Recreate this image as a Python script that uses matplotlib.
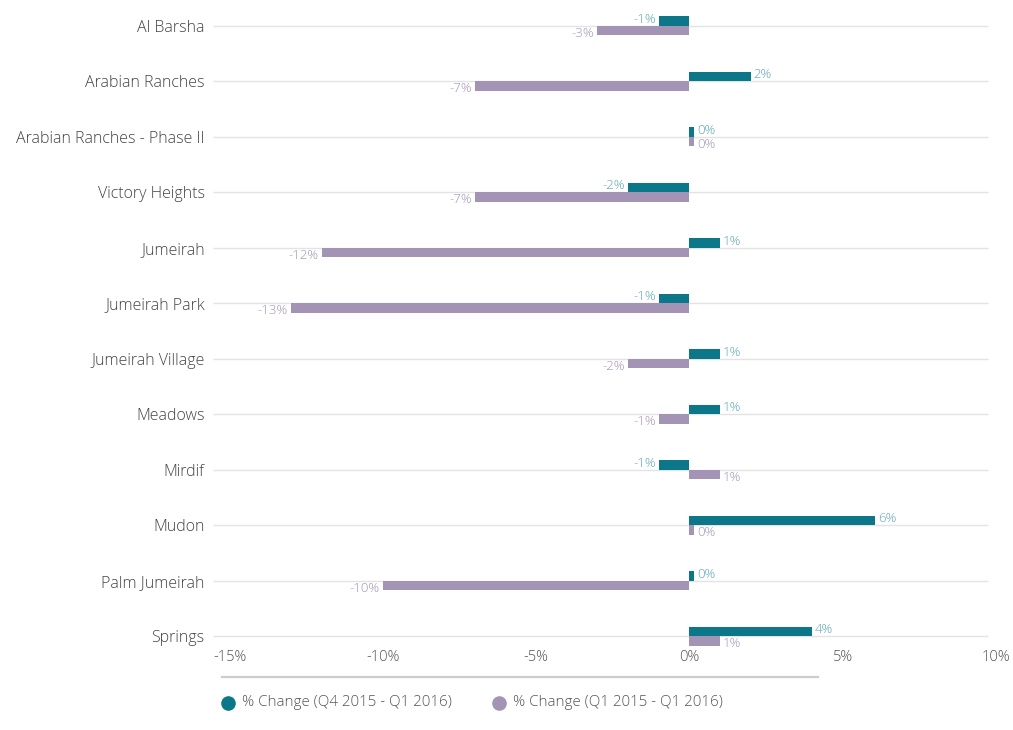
import numpy as np
import matplotlib
matplotlib.use("Agg")
import matplotlib.pyplot as plt
from matplotlib.lines import Line2D

plt.rcParams['font.family'] = ['Open Sans', 'DejaVu Sans']

communities = ['Al Barsha', 'Arabian Ranches', 'Arabian Ranches - Phase II',
               'Victory Heights', 'Jumeirah', 'Jumeirah Park', 'Jumeirah Village',
               'Meadows', 'Mirdif', 'Mudon', 'Palm Jumeirah', 'Springs']
qoq = [-1, 2, 0.14, -2, 1, -1, 1, 1, -1, 6.05, 0.14, 4]
yoy = [-3, -7, 0.14, -7, -12, -13, -2, -1, 1, 0.14, -10, 1]
series_names = ['% Change (Q4 2015 - Q1 2016)', '% Change (Q1 2015 - Q1 2016)']
xticks = [-15, -10, -5, 0, 5, 10]

c_teal = '#0b7789'
c_purple = '#a393b5'
c_teal_lbl = '#5aa6b4'
c_purple_lbl = '#a393b5'

W, H = 1013, 730
fig = plt.figure(figsize=(W / 100, H / 100), dpi=100)
# axes box in pixels: left 213, right 996, top 0, bottom 648
ax = fig.add_axes([213 / W, (H - 648) / H, 783 / W, 648 / H])

y = np.arange(len(communities))
bh = 0.172
px = 1 / 55.5  # one pixel in category units
ax.barh(y - bh / 2, qoq, height=bh, color=c_teal, zorder=3)
ax.barh(y + bh / 2, yoy, height=bh, color=c_purple, zorder=3)

ax.set_xlim(-15.54, 10)
ax.set_ylim(11.213, -0.463)
ax.hlines(y, -15.54, 9.75, color='#e3e3e3', lw=1, zorder=1)

for vals, off, col in [(qoq, -bh / 2 - 1.5 * px, c_teal_lbl),
                       (yoy, bh / 2 + 3 * px, c_purple_lbl)]:
    for i, v in enumerate(vals):
        txt = '{:.0f}%'.format(v)
        if v < 0:
            ax.text(v - 0.1, i + off, txt, ha='right', va='center', fontsize=9.5,
                    color=col, fontweight='light')
        else:
            ax.text(v + 0.1, i + off, txt, ha='left', va='center', fontsize=9.5,
                    color=col, fontweight='light')

ax.set_yticks(y)
ax.set_yticklabels(communities, fontsize=11.5, color='#444444', fontweight='light')
ax.set_xticks(xticks)
ax.set_xticklabels(['{}%'.format(t) for t in xticks], fontsize=10.5,
                   color='#555555', fontweight='light')
ax.tick_params(axis='y', length=0, pad=6)
ax.tick_params(axis='x', length=0, pad=1.5)
for s in ax.spines.values():
    s.set_visible(False)

# separator line under the axis
fig.add_artist(Line2D([222 / W, 818 / W], [(H - 677) / H] * 2, transform=fig.transFigure,
                      color='#cccccc', lw=1.6))

# legend
for name, col, mx in [(series_names[0], c_teal, 228), (series_names[1], c_purple, 499)]:
    fig.add_artist(Line2D([mx / W], [(H - 703) / H], transform=fig.transFigure,
                          marker='o', markersize=9.5, color=col, linestyle='none'))
    fig.text((mx + 14) / W, (H - 703) / H, name, ha='left', va='center',
             fontsize=10.9, color='#555555', fontweight='light')

fig.savefig('out.png', dpi=100)
